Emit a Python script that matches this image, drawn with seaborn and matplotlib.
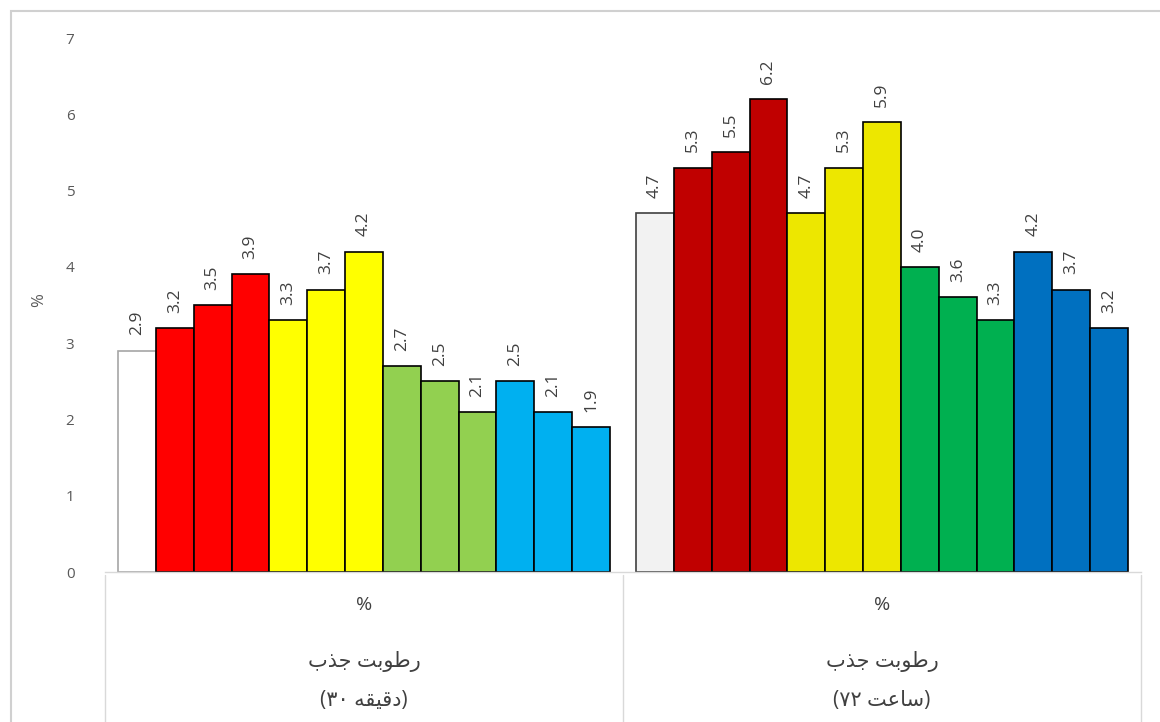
import re
import numpy as np
import pandas as pd
import matplotlib
matplotlib.use("Agg")
import matplotlib.pyplot as plt
from matplotlib.patches import Rectangle
import seaborn as sns

# ---- data -------------------------------------------------------------
group_titles = ["جذب رطوبت", "جذب رطوبت"]
group_periods = ["(۳۰ دقیقه)", "(۷۲ ساعت)"]
group_units = ["%", "%"]

values_30min = [2.9, 3.2, 3.5, 3.9, 3.3, 3.7, 4.2, 2.7, 2.5, 2.1, 2.5, 2.1, 1.9]
values_72h = [4.7, 5.3, 5.5, 6.2, 4.7, 5.3, 5.9, 4.0, 3.6, 3.3, 4.2, 3.7, 3.2]

colors_30min = ["#FFFFFF",
                "#FF0000", "#FF0000", "#FF0000",
                "#FFFF00", "#FFFF00", "#FFFF00",
                "#92D050", "#92D050", "#92D050",
                "#00B0F0", "#00B0F0", "#00B0F0"]
colors_72h = ["#F2F2F2",
              "#C00000", "#C00000", "#C00000",
              "#EDE700", "#EDE700", "#EDE700",
              "#00B050", "#00B050", "#00B050",
              "#0070C0", "#0070C0", "#0070C0"]

y_ticks = [0, 1, 2, 3, 4, 5, 6, 7]

# ---- minimal Arabic-script shaping (presentation forms) ---------------
FORMS = {
    "ا": ("\uFE8D", "\uFE8E", None, None),
    "ب": ("\uFE8F", "\uFE90", "\uFE91", "\uFE92"),
    "ت": ("\uFE95", "\uFE96", "\uFE97", "\uFE98"),
    "ج": ("\uFE9D", "\uFE9E", "\uFE9F", "\uFEA0"),
    "د": ("\uFEA9", "\uFEAA", None, None),
    "ذ": ("\uFEAB", "\uFEAC", None, None),
    "ر": ("\uFEAD", "\uFEAE", None, None),
    "س": ("\uFEB1", "\uFEB2", "\uFEB3", "\uFEB4"),
    "ط": ("\uFEC1", "\uFEC2", "\uFEC3", "\uFEC4"),
    "ع": ("\uFEC9", "\uFECA", "\uFECB", "\uFECC"),
    "ق": ("\uFED5", "\uFED6", "\uFED7", "\uFED8"),
    "ه": ("\uFEE9", "\uFEEA", "\uFEEB", "\uFEEC"),
    "و": ("\uFEED", "\uFEEE", None, None),
    "ی": ("\uFEEF", "\uFEF0", "\uFEF3", "\uFEF4"),
}


def _shape_run(run):
    out = []
    n = len(run)
    for i, c in enumerate(run):
        prev_joins = i > 0 and FORMS[run[i - 1]][2] is not None
        next_joins = i < n - 1 and FORMS[c][2] is not None
        iso, fin, ini, med = FORMS[c]
        if prev_joins and next_joins:
            out.append(med)
        elif prev_joins:
            out.append(fin)
        elif next_joins:
            out.append(ini)
        else:
            out.append(iso)
    return "".join(reversed(out))


def shape(text):
    pattern = "[" + "".join(FORMS) + "]+"
    return re.sub(pattern, lambda m: _shape_run(m.group(0)), text)


# ---- figure -----------------------------------------------------------
sns.set_theme(style="white")
plt.rcParams["font.family"] = ["Open Sans", "DejaVu Sans"]

fig = plt.figure(figsize=(11.6, 7.22), dpi=100)
ax = fig.add_axes([105 / 1160, 1 - 572 / 722, (1141 - 105) / 1160, (572 - 38) / 722])

n_items = len(values_30min)
df = pd.DataFrame({
    "group": ["g0"] * n_items + ["g1"] * n_items,
    "item": list(range(n_items)) * 2,
    "value": values_30min + values_72h,
})

sns.barplot(data=df, x="group", y="value", hue="item", dodge=True,
            width=0.95, gap=0, errorbar=None, legend=False,
            palette=colors_30min, edgecolor="black", linewidth=1.2, ax=ax)

group_colors = [colors_30min, colors_72h]
for i, cont in enumerate(ax.containers):
    for g, bar in enumerate(cont):
        bar.set_facecolor(group_colors[g][i])
        if i == 0:
            bar.set_edgecolor("#A6A6A6" if g == 0 else "#404040")
    ax.bar_label(cont, fmt="%.1f", rotation=90, padding=11,
                 fontsize=12.5, color="#404040")

ax.set_ylim(0, 7)
ax.set_xlim(-0.5, 1.5)
ax.set_yticks(y_ticks)
ax.set_yticklabels([str(t) for t in y_ticks], color="#595959", fontsize=11)
ax.tick_params(axis="y", length=0, pad=22)
ax.tick_params(axis="x", length=0)
ax.set_xticks([0, 1])
ax.set_xticklabels(["", ""])
ax.set_xlabel("")
ax.set_ylabel("%", color="#595959", fontsize=12)
ax.yaxis.set_label_coords(-0.056, 0.51)

for s in ["left", "right", "top"]:
    ax.spines[s].set_visible(False)
ax.spines["bottom"].set_color("#D9D9D9")
ax.spines["bottom"].set_linewidth(1.0)

# multi-level category labels below the axis
tr = ax.get_xaxis_transform()
for g in range(2):
    ax.text(g, -0.062, group_units[g], transform=tr, ha="center", va="center",
            fontsize=14, color="#404040")
    ax.text(g, -0.168, shape(group_titles[g]), transform=tr, ha="center",
            va="center", fontsize=15, color="#404040")
    ax.text(g, -0.240, shape(group_periods[g]), transform=tr, ha="center",
            va="center", fontsize=15, color="#404040")

for xb in np.arange(-0.5, 2.0, 1.0):
    ax.plot([xb, xb], [-0.005, -0.3], transform=tr, color="#D9D9D9",
            lw=1.0, clip_on=False)

# chart-area border
fig.add_artist(Rectangle((11 / 1160, -0.05), 1.2, 1.05 - 11 / 722,
                         transform=fig.transFigure, fill=False,
                         edgecolor="#D0D0D0", lw=1.5, clip_on=False))

fig.savefig("out.png", dpi=100, facecolor="white")
